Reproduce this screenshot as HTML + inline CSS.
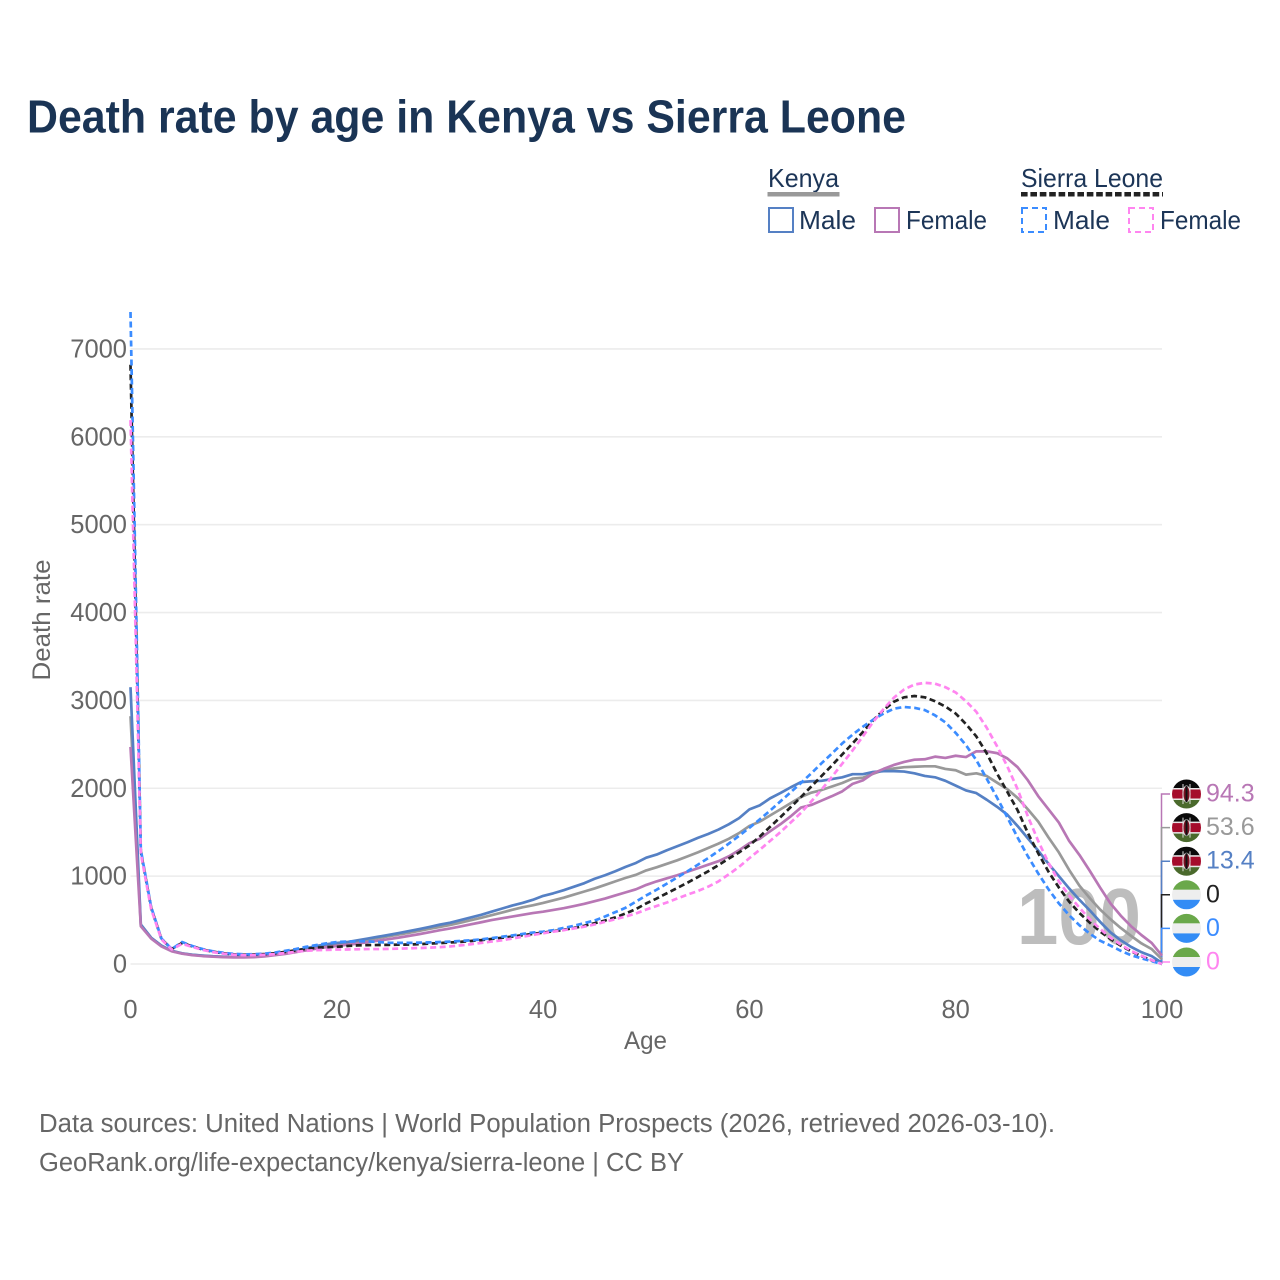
<!DOCTYPE html>
<html lang="en">
<head>
<meta charset="utf-8">
<title>Death rate by age in Kenya vs Sierra Leone</title>
<style>
  html, body { margin: 0; padding: 0; background: #fff; }
  svg { display: block; font-family: "Liberation Sans", sans-serif; }
</style>
</head>
<body>
<svg id="chart" width="1280" height="1280" viewBox="0 0 1280 1280" xmlns="http://www.w3.org/2000/svg">
  <defs>
    <clipPath id="flag-clip"><circle cx="0" cy="0" r="14.5"></circle></clipPath>
  </defs>
  <rect x="0" y="0" width="1280" height="1280" fill="#ffffff"></rect>

  <text x="27" y="132.5" font-size="46" font-weight="700" fill="#1a3455" textLength="879" lengthAdjust="spacingAndGlyphs">Death rate by age in Kenya vs Sierra Leone</text>

  <g>
    <text x="768" y="187" font-size="26" fill="#1c3557" textLength="71" lengthAdjust="spacingAndGlyphs">Kenya</text>
    <rect x="767.5" y="192" width="72" height="4.5" fill="#999999"></rect>
    <rect x="769" y="208" width="24" height="24" fill="none" stroke="#5580c4" stroke-width="2"></rect>
    <text x="799" y="229" font-size="26" fill="#1c3557" textLength="57" lengthAdjust="spacingAndGlyphs">Male</text>
    <rect x="875" y="208" width="24" height="24" fill="none" stroke="#b877b5" stroke-width="2"></rect>
    <text x="906" y="229" font-size="26" fill="#1c3557" textLength="81" lengthAdjust="spacingAndGlyphs">Female</text>

    <text x="1021" y="187" font-size="26" fill="#1c3557" textLength="142" lengthAdjust="spacingAndGlyphs">Sierra Leone</text>
    <line x1="1021" y1="194.2" x2="1163" y2="194.2" stroke="#222222" stroke-width="4.5" stroke-dasharray="6.6 2.8"></line>
    <rect x="1022" y="208" width="24" height="24" fill="none" stroke="#3b8cff" stroke-width="2" stroke-dasharray="6 4"></rect>
    <text x="1053" y="229" font-size="26" fill="#1c3557" textLength="57" lengthAdjust="spacingAndGlyphs">Male</text>
    <rect x="1129" y="208" width="24" height="24" fill="none" stroke="#ff85f0" stroke-width="2" stroke-dasharray="6 4"></rect>
    <text x="1160" y="229" font-size="26" fill="#1c3557" textLength="81" lengthAdjust="spacingAndGlyphs">Female</text>
  </g>

  <g id="grid"></g>
  <text x="1141" y="944" text-anchor="end" font-size="80" font-weight="700" fill="#bdbdbd" textLength="124" lengthAdjust="spacingAndGlyphs">100</text>
  <g id="y-ticks"></g>
  <g id="x-ticks"></g>
  <text transform="translate(50 620) rotate(-90)" text-anchor="middle" font-size="25" fill="#666666" textLength="121" lengthAdjust="spacingAndGlyphs">Death rate</text>
  <text x="645.5" y="1049" text-anchor="middle" font-size="25" fill="#666666" textLength="43" lengthAdjust="spacingAndGlyphs">Age</text>
  <g id="connectors"></g>
  <g id="series"></g>
  <g id="end-labels"></g>

  <text x="39" y="1132" font-size="25.5" fill="#666666" textLength="1016" lengthAdjust="spacingAndGlyphs">Data sources: United Nations | World Population Prospects (2026, retrieved 2026-03-10).</text>
  <text x="39" y="1171" font-size="25.5" fill="#666666" textLength="645" lengthAdjust="spacingAndGlyphs">GeoRank.org/life-expectancy/kenya/sierra-leone | CC BY</text>
</svg>

<script>
// Chart data. Index = age in years.
const yTickValues = [0, 1000, 2000, 3000, 4000, 5000, 6000, 7000];
const xTickValues = [0, 20, 40, 60, 80, 100];

const kenyaMale = [3150,450,300,210,150,122,106,96,88,83,80,
  80,84,93,108,128,152,178,204,225,240,
  250,270,290,310,330,352,375,398,422,448,
  470,500,530,560,595,630,665,695,730,775,
  805,840,880,920,970,1010,1055,1105,1150,1210,
  1245,1295,1340,1385,1435,1480,1530,1590,1660,1760,
  1805,1885,1945,2010,2070,2080,2085,2105,2125,2160,
  2160,2185,2195,2195,2190,2170,2140,2125,2085,2030,
  1975,1945,1870,1790,1700,1570,1430,1290,1140,1000,
  860,730,610,480,360,270,195,135,90,13.4];

const kenyaTotal = [2820,440,295,205,148,120,104,94,86,81,78,
  78,82,90,104,122,145,170,195,215,228,
  240,258,276,295,315,335,355,378,400,422,
  445,470,498,526,556,586,616,645,668,695,
  725,755,790,825,860,900,940,980,1015,1065,
  1100,1140,1180,1225,1270,1320,1370,1425,1490,1570,
  1620,1690,1760,1830,1900,1950,1980,2020,2060,2110,
  2120,2165,2205,2225,2240,2245,2250,2250,2220,2205,
  2155,2170,2140,2065,1990,1890,1760,1620,1440,1270,
  1070,890,750,620,510,410,320,235,170,53.6];

const kenyaFemale = [2470,430,290,200,145,118,100,90,83,78,75,
  75,78,86,100,115,135,155,175,192,205,
  218,232,248,265,282,300,320,340,362,385,
  405,428,452,475,500,520,540,560,580,595,
  615,635,660,685,715,745,780,815,850,900,
  940,975,1010,1050,1090,1130,1170,1225,1295,1375,
  1425,1510,1590,1680,1780,1810,1860,1910,1965,2050,
  2090,2170,2220,2265,2300,2325,2330,2360,2345,2370,
  2355,2420,2420,2400,2340,2240,2090,1910,1760,1610,
  1400,1240,1060,870,690,550,430,330,240,94.3];

const sierraTotal = [6820,1280,640,285,170,240,200,165,140,122,110,
  105,108,112,122,138,155,172,185,192,195,
  205,212,215,216,218,220,222,226,232,238,
  245,252,262,272,285,298,312,328,342,358,
  372,390,410,435,465,495,530,575,625,690,
  745,805,865,925,990,1055,1125,1200,1270,1350,
  1450,1560,1670,1785,1900,2020,2140,2260,2385,2510,
  2640,2775,2890,2985,3035,3050,3035,2990,2930,2850,
  2730,2590,2400,2170,1960,1750,1490,1260,1050,870,
  710,580,470,370,285,210,145,90,42,0];

const sierraMale = [7420,1300,650,290,170,250,205,170,145,128,115,
  110,112,118,130,150,170,195,215,235,250,
  255,258,258,250,242,240,240,243,246,250,
  255,262,270,280,295,310,325,342,358,368,
  385,410,435,465,495,540,590,640,710,780,
  845,915,985,1055,1130,1205,1285,1370,1460,1550,
  1645,1745,1850,1955,2060,2170,2285,2395,2510,2610,
  2700,2780,2850,2905,2925,2915,2890,2830,2750,2630,
  2490,2320,2110,1895,1670,1440,1225,1030,850,690,
  555,440,345,265,210,150,100,65,32,0];

const sierraFemale = [6190,1260,625,280,165,230,195,160,135,118,105,
  100,102,105,112,125,138,150,158,160,165,
  165,168,170,170,172,175,178,182,186,192,
  200,212,225,240,255,270,290,310,330,350,
  368,385,405,425,450,480,510,540,575,620,
  660,700,745,790,830,880,940,1020,1105,1205,
  1300,1400,1500,1610,1720,1850,1985,2130,2280,2430,
  2590,2755,2900,3030,3125,3180,3200,3190,3150,3090,
  2990,2870,2690,2480,2250,1990,1680,1400,1150,940,
  780,640,510,400,300,220,150,95,45,0];

const NS = 'http://www.w3.org/2000/svg';
const plot = { left: 130.5, right: 1162, bottom: 964, top1000: 87.87 };
function xScale(age) { return plot.left + age * (plot.right - plot.left) / 100; }
function yScale(rate) { return plot.bottom - rate * plot.top1000 / 1000; }
function make(tag, attrs, parent) {
  const el = document.createElementNS(NS, tag);
  for (const k in attrs) el.setAttribute(k, attrs[k]);
  if (parent) parent.appendChild(el);
  return el;
}

// Gridlines and y ticks
const gridGroup = document.getElementById('grid');
const yTickGroup = document.getElementById('y-ticks');
yTickValues.forEach(function (v) {
  const g = make('line', { x1: plot.left, x2: plot.right, y1: yScale(v), y2: yScale(v), stroke: '#ececec', 'stroke-width': 1.6 }, gridGroup);
  
  
  const t = make('text', { x: 127, y: yScale(v) + 8.5, 'text-anchor': 'end', 'font-size': 25.5, fill: '#666666' }, yTickGroup);
  
  
  t.textContent = String(v);
});

// X ticks
const xTickGroup = document.getElementById('x-ticks');
xTickValues.forEach(function (v) {
  const t = make('text', { x: xScale(v), y: 1018, 'text-anchor': 'middle', 'font-size': 25.5, fill: '#666666' }, xTickGroup);
  
  
  t.textContent = String(v);
});

// Series, in paint order
const seriesList = [
  { key: 'kenya-total', values: kenyaTotal, color: '#999999', dashed: false, flag: 'kenya', labelColor: '#999999' },
  { key: 'kenya-male', values: kenyaMale, color: '#5580c4', dashed: false, flag: 'kenya', labelColor: '#5580c4' },
  { key: 'kenya-female', values: kenyaFemale, color: '#b877b5', dashed: false, flag: 'kenya', labelColor: '#b877b5' },
  { key: 'sierra-leone-total', values: sierraTotal, color: '#222222', dashed: true, flag: 'sierra', labelColor: '#222222' },
  { key: 'sierra-leone-male', values: sierraMale, color: '#3b8cff', dashed: true, flag: 'sierra', labelColor: '#3b8cff' },
  { key: 'sierra-leone-female', values: sierraFemale, color: '#ff85f0', dashed: true, flag: 'sierra', labelColor: '#ff85f0' }
];

const seriesGroup = document.getElementById('series');
seriesList.forEach(function (s) {
  const d = s.values.map(function (v, i) {
    return (i ? 'L' : 'M') + xScale(i).toFixed(2) + ' ' + yScale(v).toFixed(2);
  }).join('');
  const p = make('path', { d: d, fill: 'none', stroke: s.color, 'stroke-width': 2.7, 'stroke-linejoin': 'round' }, seriesGroup);
  if (s.dashed) p.setAttribute('stroke-dasharray', '6 3.5');
  
  
});

// End labels, stacked by final value
const labelOrder = [
  seriesList[2], seriesList[0], seriesList[1], seriesList[3], seriesList[4], seriesList[5]
].slice().sort(function (a, b) {
  return b.values[b.values.length - 1] - a.values[a.values.length - 1];
});
const connectorGroup = document.getElementById('connectors');
const labelGroup = document.getElementById('end-labels');
const labelTop = 794;
const labelStep = 33.6;

function drawFlag(kind, cx, cy, parent) {
  const g = make('g', { transform: 'translate(' + cx + ' ' + cy + ')', 'clip-path': 'url(#flag-clip)' }, parent);
  
  
  if (kind === 'kenya') {
    make('rect', { x: -15, y: -15, width: 30, height: 10, fill: '#0a0a0a' }, g);
    make('rect', { x: -15, y: -5, width: 30, height: 10, fill: '#a50d2c' }, g);
    make('rect', { x: -15, y: 5, width: 30, height: 10, fill: '#4a6a2c' }, g);
    make('rect', { x: -15, y: -6, width: 30, height: 1.5, fill: '#e8e8e8' }, g);
    make('rect', { x: -15, y: 4.5, width: 30, height: 1.5, fill: '#e8e8e8' }, g);
    make('ellipse', { cx: 0, cy: 0, rx: 3.6, ry: 8, fill: '#7d1022', stroke: '#ddd', 'stroke-width': 1 }, g);
    make('rect', { x: -1, y: -8, width: 2, height: 16, fill: '#111' }, g);
    make('line', { x1: -3.5, y1: -10, x2: -3.5, y2: 10, stroke: '#ddd', 'stroke-width': 1 }, g);
    make('line', { x1: 3.5, y1: -10, x2: 3.5, y2: 10, stroke: '#ddd', 'stroke-width': 1 }, g);
  } else {
    make('rect', { x: -15, y: -15, width: 30, height: 10, fill: '#6aa84a' }, g);
    make('rect', { x: -15, y: -5, width: 30, height: 10, fill: '#eeeeee' }, g);
    make('rect', { x: -15, y: 5, width: 30, height: 10, fill: '#338cf5' }, g);
  }
}

labelOrder.forEach(function (s, rank) {
  const endValue = s.values[s.values.length - 1];
  const ly = labelTop + rank * labelStep;
  const c = make('path', {
    d: 'M' + (plot.right + 8) + ' ' + ly + 'H' + (plot.right - 0.5) + 'V' + yScale(endValue),
    fill: 'none', stroke: s.color, 'stroke-width': 1.5
  }, connectorGroup);
  
  
  drawFlag(s.flag, 1186.5, ly, labelGroup);
  const t = make('text', { x: 1206, y: ly + 7.5, 'font-size': 25, fill: s.labelColor }, labelGroup);
  
  
  t.textContent = String(endValue);
});
</script>
</body>
</html>
